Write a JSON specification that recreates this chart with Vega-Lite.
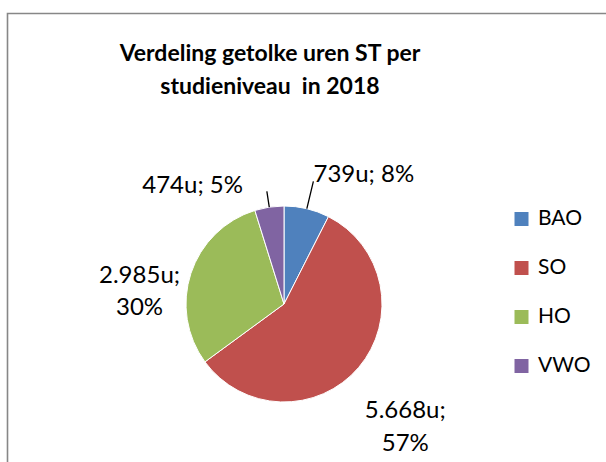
{
  "$schema": "https://vega.github.io/schema/vega-lite/v6.json",
  "width": 620,
  "height": 470,
  "autosize": {"type": "none"},
  "padding": {"left": 7.5, "top": 13.5, "right": 0, "bottom": 0},
  "background": "white",
  "view": {"stroke": "#878787", "strokeWidth": 1.6},
  "title": {
    "text": ["Verdeling getolke uren ST per", "studieniveau\u00a0 in 2018"],
    "font": "Lato",
    "fontSize": 23,
    "fontWeight": "bold",
    "color": "black",
    "lineHeight": 33,
    "anchor": "middle",
    "frame": "group",
    "dx": -47.5,
    "offset": -85
  },
  "config": {
    "view": {"stroke": "#878787", "strokeWidth": 1.6},
    "font": "Lato"
  },
  "data": {
    "values": [
      {"niveau": "BAO", "uren": 739, "nr": 1, "label": "739u; 8%"},
      {"niveau": "SO", "uren": 5668, "nr": 2, "label": ["5.668u;", "57%"]},
      {"niveau": "HO", "uren": 2985, "nr": 3, "label": ["2.985u;", "30%"]},
      {"niveau": "VWO", "uren": 474, "nr": 4, "label": "474u; 5%"}
    ]
  },
  "layer": [
    {
      "mark": {"type": "arc", "radius": 98, "stroke": "white", "strokeWidth": 1, "xOffset": -33.5, "yOffset": 55.5},
      "encoding": {
        "theta": {"field": "uren", "type": "quantitative", "stack": true},
        "order": {"field": "nr", "type": "quantitative"},
        "color": {
          "field": "niveau",
          "type": "nominal",
          "scale": {"domain": ["BAO", "SO", "HO", "VWO"], "range": ["#4F81BD", "#C0504D", "#9BBB59", "#8064A2"]},
          "sort": ["BAO", "SO", "HO", "VWO"],
          "legend": {
            "orient": "none",
            "legendX": 503.5,
            "legendY": 195,
            "title": null,
            "symbolType": "square",
            "symbolSize": 196,
            "symbolStrokeWidth": 0,
            "labelFont": "Lato",
            "labelFontSize": 21,
            "labelColor": "black",
            "labelOffset": 6,
            "rowPadding": 27,
            "padding": 0
          }
        }
      }
    },
    {
      "mark": {"type": "arc", "radius": 126, "radius2": 98, "padAngle": 3, "fillOpacity": 0, "strokeWidth": 1.3, "xOffset": -33.5, "yOffset": 55.5},
      "encoding": {
        "theta": {"field": "uren", "type": "quantitative", "stack": true},
        "order": {"field": "nr", "type": "quantitative"},
        "stroke": {"condition": {"test": "datum.niveau === 'BAO'", "value": "black"}, "value": "transparent"}
      }
    },
    {
      "mark": {"type": "arc", "radius": 114, "radius2": 98, "padAngle": 3, "fillOpacity": 0, "strokeWidth": 1.3, "xOffset": -33.5, "yOffset": 55.5},
      "encoding": {
        "theta": {"field": "uren", "type": "quantitative", "stack": true},
        "order": {"field": "nr", "type": "quantitative"},
        "stroke": {"condition": {"test": "datum.niveau === 'VWO'", "value": "black"}, "value": "transparent"}
      }
    },
    {
      "mark": {"type": "text", "radius": 135, "font": "Lato", "fontSize": 24, "color": "black", "align": "left", "baseline": "middle", "dx": -2, "dy": 2, "xOffset": -33.5, "yOffset": 55.5},
      "encoding": {
        "theta": {"field": "uren", "type": "quantitative", "stack": true},
        "order": {"field": "nr", "type": "quantitative"},
        "text": {"condition": {"test": "datum.niveau === 'BAO'", "field": "label"}, "value": ""}
      }
    },
    {
      "mark": {"type": "text", "radius": 150, "font": "Lato", "fontSize": 24, "color": "black", "align": "center", "baseline": "middle", "lineHeight": 33, "dx": 7, "dy": 10, "xOffset": -33.5, "yOffset": 55.5},
      "encoding": {
        "theta": {"field": "uren", "type": "quantitative", "stack": true},
        "order": {"field": "nr", "type": "quantitative"},
        "text": {"condition": {"test": "datum.niveau === 'SO'", "field": "label"}, "value": ""}
      }
    },
    {
      "mark": {"type": "text", "radius": 150, "font": "Lato", "fontSize": 24, "color": "black", "align": "center", "baseline": "middle", "lineHeight": 32, "dx": -2, "dy": 19, "xOffset": -33.5, "yOffset": 55.5},
      "encoding": {
        "theta": {"field": "uren", "type": "quantitative", "stack": true},
        "order": {"field": "nr", "type": "quantitative"},
        "text": {"condition": {"test": "datum.niveau === 'HO'", "field": "label"}, "value": ""}
      }
    },
    {
      "mark": {"type": "text", "radius": 120, "font": "Lato", "fontSize": 24, "color": "black", "align": "right", "baseline": "middle", "dx": -23, "dy": 1, "xOffset": -33.5, "yOffset": 55.5},
      "encoding": {
        "theta": {"field": "uren", "type": "quantitative", "stack": true},
        "order": {"field": "nr", "type": "quantitative"},
        "text": {"condition": {"test": "datum.niveau === 'VWO'", "field": "label"}, "value": ""}
      }
    }
  ]
}
